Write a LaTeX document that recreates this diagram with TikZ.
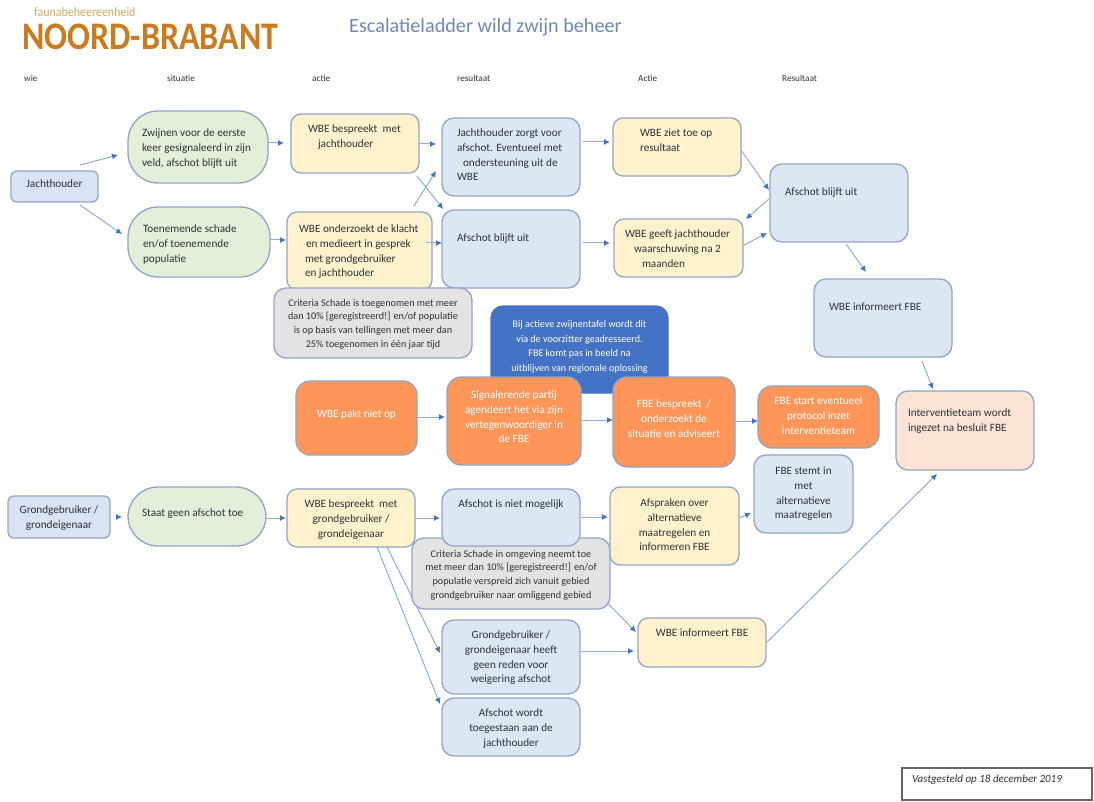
\documentclass[tikz,border=0pt]{standalone}
\usepackage{graphicx}
\usepackage{fontspec}
\setmainfont{Carlito}
\usetikzlibrary{arrows.meta,backgrounds}
\definecolor{edgeb}{HTML}{93A5C6}
\definecolor{inkt}{HTML}{2F3236}
\definecolor{pijl}{HTML}{4472C4}
\definecolor{lijn}{HTML}{8FAADC}
\definecolor{fblue}{HTML}{DCE7F4}
\definecolor{fhead}{HTML}{D9E3F3}
\definecolor{fgreen}{HTML}{E2EFD9}
\definecolor{fyel}{HTML}{FFF2CC}
\definecolor{forange}{HTML}{FF9659}
\definecolor{fgrey}{HTML}{E3E3E3}
\definecolor{fpeach}{HTML}{FBE4D5}
\definecolor{logo}{HTML}{CC7A1C}
\definecolor{logol}{HTML}{CFA96B}
\definecolor{titel}{HTML}{6F87B8}
\newcommand{\ctr}{\centering}
\newcommand{\lft}{\raggedright}
\newcommand{\ind}[1]{\hspace*{#1pt}}
% style, name, x0, y0, width, height, centre offset of first line, content
\newcommand{\bx}[8]{%
  \node[#1,anchor=north west,minimum width=#5pt,minimum height=#6pt] (#2) at (#3,#4)
    {\parbox[c][#6pt][t]{#5pt}{\vspace*{\dimexpr#7pt-.5\baselineskip+1.5pt}\strut #8}};}
% from node, dx, dy, to node, dx, dy (offsets from the north west corners)
\newcommand{\cn}[6]{\draw[conn] ([shift={(#2,#3)}]#1.north west) -- ([shift={(#5,#6)}]#4.north west);}
\tikzset{
  boxbase/.style={draw=edgeb,line width=1.3pt,inner sep=0pt,outer sep=0pt,text=inkt,
    font=\fontsize{11.2}{14.8}\selectfont},
  kblue/.style={boxbase,fill=fblue,rounded corners=12pt},
  khead/.style={boxbase,fill=fhead,rounded corners=6pt},
  kgreen/.style={boxbase,fill=fgreen,rounded corners=30pt},
  kyel/.style={boxbase,fill=fyel,rounded corners=10pt},
  korange/.style={boxbase,fill=forange,text=white,rounded corners=14pt},
  kgrey/.style={boxbase,fill=fgrey,rounded corners=12pt,font=\fontsize{10.2}{13.6}\selectfont},
  kdark/.style={boxbase,draw=pijl,fill=pijl,text=white,rounded corners=12pt,font=\fontsize{10.1}{14.7}\selectfont},
  kpeach/.style={boxbase,fill=fpeach,rounded corners=12pt},
  knote/.style={boxbase,draw=black!60,rounded corners=0pt,line width=1.1pt,font=\fontsize{11}{13}\selectfont\itshape},
  kop/.style={font=\fontsize{9.2}{10}\selectfont,text=inkt,anchor=west,inner sep=0pt},
  conn/.style={draw=lijn,line width=1pt,-{Latex[length=6pt,width=6pt,color=pijl]}},
}
\begin{document}
\begin{tikzpicture}[x=1pt,y=-1pt]
\useasboundingbox (0,0) rectangle (1094,802);
% heading
\node[inner sep=0pt,anchor=west,text=logol] (fbe) at (34,12.5) {\fontsize{13}{14}\selectfont\scalebox{0.92}[1]{faunabeheereenheid}};
\node[inner sep=0pt,anchor=west,text=logo] (nb) at (22,37) {\fontsize{39}{40}\selectfont\bfseries\scalebox{0.87}[1]{NOORD-BRABANT}};
\node[inner sep=0pt,anchor=west,text=titel,font=\fontsize{20.2}{22}\selectfont] (title) at (349,27) {Escalatieladder wild zwijn beheer};
\node[kop] (h1) at (24,78) {wie};
\node[kop] (h2) at (167,78) {situatie};
\node[kop] (h3) at (312,78) {actie};
\node[kop] (h4) at (457,78) {resultaat};
\node[kop] (h5) at (638,78) {Actie};
\node[kop] (h6) at (782,78) {Resultaat};
% top block
\bx{khead}{jacht}{11}{171}{87}{31}{12}{\ctr Jachthouder}
\bx{kgreen}{zwijn}{128}{111}{140}{72}{21}{\lft\ind{14}Zwijnen voor de eerste\\\ind{14}keer gesignaleerd in zijn\\\ind{14}veld, afschot blijft uit}
\bx{kgreen}{toen}{128}{207}{142}{70}{21}{\lft\ind{15}Toenemende schade\\\ind{15}en/of toenemende\\\ind{15}populatie}
\bx{kyel}{wbea}{291}{114}{128}{59}{14}{\lft\ind{17}WBE bespreekt\ \ met\\\ind{27}jachthouder}
\bx{kblue}{jzorg}{442}{118}{138}{78}{14}{\lft\ind{15}Jachthouder zorgt voor\\\ind{15}afschot. Eventueel met\\\ind{21}ondersteuning uit de\\\ind{15}WBE}
\bx{kyel}{wziet}{613}{118}{128}{58}{14}{\lft\ind{27}WBE ziet toe op\\\ind{27}resultaat}
\bx{kblue}{blijfb}{770}{164}{138}{78}{27}{\lft\ind{15}Afschot blijft uit}
\bx{kyel}{wond}{287}{212}{145}{78}{16}{\lft\ind{12}WBE onderzoekt de klacht\\\ind{19}en medieert in gesprek\\\ind{18}met grondgebruiker\\\ind{18}en jachthouder}
\bx{kblue}{blijfa}{442}{210}{138}{78}{27}{\lft\ind{15}Afschot blijft uit}
\bx{kyel}{wgeeft}{614}{219}{129}{58}{14}{\lft\ind{11}WBE geeft jachthouder\\\ind{20}waarschuwing na 2\\\ind{28}maanden}
\bx{kblue}{winfa}{814}{279}{138}{78}{27}{\lft\ind{15}WBE informeert FBE}
\bx{kgrey}{crita}{274}{288}{198}{70}{14}{\ctr Criteria Schade is toegenomen met meer\\dan 10\% [geregistreerd!] en/of populatie\\is op basis van tellingen met meer dan\\25\% toegenomen in één jaar tijd}
% middle block
\bx{kdark}{tafel}{491}{306}{177}{87}{17}{\ctr Bij actieve zwijnentafel wordt dit\\via de voorzitter geadresseerd.\\FBE komt pas in beeld na\\uitblijven van regionale oplossing}
\bx{korange}{pakt}{296}{381}{121}{74}{32}{\ctr WBE pakt niet op}
\bx{korange}{sign}{447}{377}{134}{88}{17}{\ctr Signalerende partij\\agendeert het via zijn\\vertegenwoordiger in\\de FBE}
\bx{korange}{fbeb}{613}{377}{122}{90}{26}{\ctr FBE bespreekt\ \ /\\onderzoekt de\\situatie en adviseert}
\bx{korange}{fbes}{758}{386}{121}{62}{14}{\ctr FBE start eventueel\\protocol inzet\\interventieteam}
\bx{kpeach}{interv}{896}{391}{138}{79}{21}{\lft\ind{12}Interventieteam wordt\\\ind{12}ingezet na besluit FBE}
% lower block
\bx{kgrey}{critb}{412}{538}{198}{71}{15}{\ctr Criteria Schade in omgeving neemt toe\\met meer dan 10\% [geregistreerd!] en/of\\populatie verspreid zich vanuit gebied\\grondgebruiker naar omliggend gebied}
\bx{kblue}{fbest}{754}{455}{99}{78}{15}{\ctr FBE stemt in\\met\\alternatieve\\maatregelen}
\bx{khead}{grond}{8}{496}{102}{42}{13}{\ctr Grondgebruiker /\\grondeigenaar}
\bx{kgreen}{staat}{128}{487}{138}{59}{25}{\lft\ind{14}Staat geen afschot toe}
\bx{kyel}{wbeg}{287}{489}{128}{58}{14}{\ctr WBE bespreekt\ \ met\\grondgebruiker /\\grondeigenaar}
\bx{kblue}{nmog}{442}{489}{138}{57}{14}{\ctr Afschot is niet mogelijk}
\bx{kyel}{afspr}{610}{487}{129}{78}{15}{\ctr Afspraken over\\alternatieve\\maatregelen en\\informeren FBE}
\bx{kyel}{winfb}{638}{618}{128}{49}{14}{\ctr WBE informeert FBE}
\bx{kblue}{gheeft}{442}{620}{138}{74}{14}{\ctr Grondgebruiker /\\grondeigenaar heeft\\geen reden voor\\weigering afschot}
\bx{kblue}{toeg}{442}{698}{138}{58}{14}{\ctr Afschot wordt\\toegestaan aan de\\jachthouder}
\bx{knote}{note}{902}{768}{190}{32}{10}{\lft\ind{10}Vastgesteld op 18 december 2019}
% connectors behind the boxes
\begin{pgfonlayer}{background}
\cn{jacht}{69}{-6}{zwijn}{-10}{44}
\cn{jacht}{69}{34}{toen}{-6}{27}
\cn{zwijn}{140}{32}{wbea}{-7}{29}
\cn{toen}{142}{33}{wond}{-1}{28}
\cn{wbea}{128}{30}{jzorg}{-6}{26}
\cn{wbea}{126}{62}{blijfa}{1}{-1}
\cn{wond}{127}{-6}{jzorg}{-6}{53}
\cn{jzorg}{141}{24}{wziet}{-3}{24}
\cn{blijfa}{141}{33}{wgeeft}{-4}{24}
\cn{wziet}{128}{32}{blijfb}{-1}{26}
\cn{blijfb}{-1}{35}{wgeeft}{132}{0}
\cn{wgeeft}{130}{26}{blijfb}{-3}{69}
\cn{blijfb}{76}{80}{winfa}{52}{-7}
\cn{winfa}{108}{82}{interv}{37}{-2}
\cn{pakt}{121}{36}{sign}{-2}{40}
\cn{sign}{134}{43}{fbeb}{0}{43}
\cn{fbeb}{123}{44}{fbes}{0}{35}
\cn{afspr}{129}{31}{fbest}{-3}{58}
\cn{winfb}{128}{25}{interv}{41}{83}
\cn{grond}{108}{21}{staat}{-6}{30}
\cn{staat}{138}{31}{wbeg}{-1}{29}
\cn{wbeg}{128}{29}{nmog}{-2}{29}
\cn{nmog}{139}{28}{afspr}{-2}{30}
\cn{wbeg}{100}{58}{gheeft}{-2}{33}
\cn{wbeg}{90}{58}{toeg}{-2}{6}
\cn{gheeft}{139}{31}{winfb}{-4}{33}
\cn{nmog}{109}{57}{winfb}{-2}{14}
\end{pgfonlayer}
\cn{wond}{139}{31}{blijfa}{0}{33}
\end{tikzpicture}
\end{document}
